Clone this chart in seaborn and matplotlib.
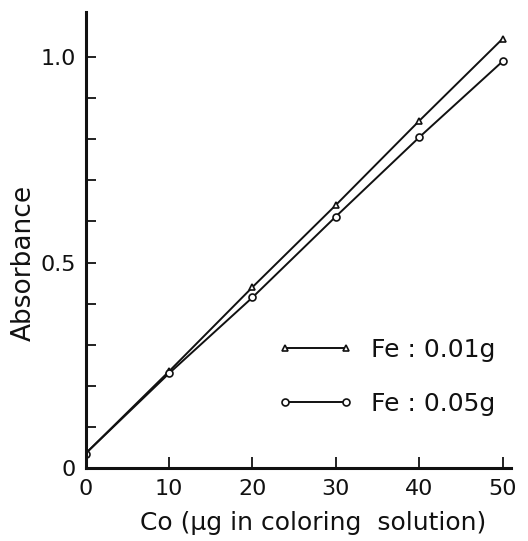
import pandas as pd
import matplotlib
matplotlib.use('Agg')
import matplotlib.pyplot as plt
import seaborn as sns
from matplotlib.lines import Line2D
from matplotlib.legend_handler import HandlerLine2D

# dados
co = [0, 10, 20, 30, 40, 50]
abs_fe001 = [0.035, 0.235, 0.44, 0.64, 0.845, 1.045]
abs_fe005 = [0.035, 0.23, 0.415, 0.612, 0.805, 0.99]
series = ['Fe : 0.01g', 'Fe : 0.05g']
xticks = [0, 10, 20, 30, 40, 50]
yticks = [0, 0.1, 0.2, 0.3, 0.4, 0.5, 0.6, 0.7, 0.8, 0.9, 1.0]
ytick_labels = ['0', '', '', '', '', '0.5', '', '', '', '', '1.0']

df = pd.DataFrame({
    'Co': co + co,
    'Absorbance': abs_fe001 + abs_fe005,
    'Fe': [series[0]] * len(co) + [series[1]] * len(co),
})

sns.set_style('ticks')
plt.rcParams['font.family'] = ['DejaVu Sans']
ink = '#111111'


# linha da legenda mais comprida que os marcadores
class LongLine(HandlerLine2D):
    def create_artists(self, legend, orig_handle, xdescent, ydescent,
                       width, height, fontsize, trans):
        arts = super().create_artists(legend, orig_handle, xdescent, ydescent,
                                      width, height, fontsize, trans)
        arts[0].set_xdata([-xdescent, -xdescent + width])
        return arts


fig = plt.figure(figsize=(5.28, 5.41), dpi=100)
ax = fig.add_axes([0.162, 0.135, 0.806, 0.843])

sns.lineplot(data=df, x='Co', y='Absorbance', hue='Fe', style='Fe',
             hue_order=series, style_order=series,
             palette=[ink, ink], markers={series[0]: '^', series[1]: 'o'},
             dashes=False, linewidth=1.4, markersize=5,
             markerfacecolor='white', markeredgecolor=ink, markeredgewidth=1.2,
             legend=False, ax=ax)

ax.set_xlim(0, 51)
ax.set_ylim(0, 1.11)
ax.set_xticks(xticks)
ax.set_yticks(yticks)
ax.set_yticklabels(ytick_labels)
ax.tick_params(direction='in', length=7, width=1.3, colors=ink,
               labelsize=16, pad=7)
ax.tick_params(axis='x', length=8, pad=8)

for s in ['top', 'right']:
    ax.spines[s].set_visible(False)
for s in ['left', 'bottom']:
    ax.spines[s].set_linewidth(2.2)
    ax.spines[s].set_color(ink)

ax.set_xlabel('Co (µg in coloring  solution)', fontsize=18, color=ink)
ax.xaxis.set_label_coords(0.535, -0.095)
ax.set_ylabel('Absorbance', fontsize=19, color=ink)
ax.yaxis.set_label_coords(-0.115, 0.45)

handles = ax.lines[:2]
ax.legend(handles, series, loc='center left', bbox_to_anchor=(0.415, 0.2),
          frameon=False, fontsize=18, handlelength=2.45, handletextpad=1.0,
          labelspacing=1.2, labelcolor=ink,
          handler_map={Line2D: LongLine(numpoints=2, marker_pad=0.55)})

plt.savefig('out.png', dpi=100)
